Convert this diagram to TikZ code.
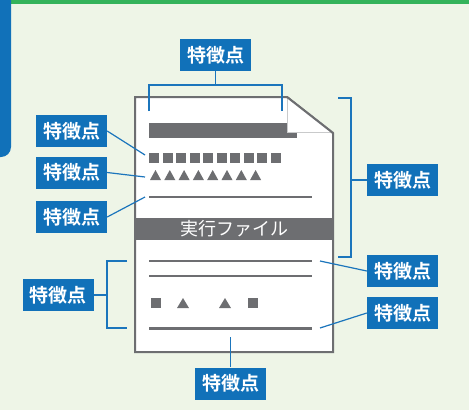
\documentclass[tikz,border=0pt]{standalone}
\usepackage{fontspec}
\newfontfamily\jpfont{Noto Sans CJK JP}[BoldFont={Noto Sans CJK JP Bold}]
\usetikzlibrary{positioning}

\definecolor{bgcol}{HTML}{EEF5E7}
\definecolor{topgreen}{HTML}{34B35B}
\definecolor{tagblue}{HTML}{1171B9}
\definecolor{linkblue}{HTML}{1B75BC}
\definecolor{docgray}{HTML}{6D6E71}
\definecolor{foldgray}{HTML}{C9CACB}

\tikzset{
  tag/.style={fill=tagblue, text=white, font=\jpfont\bfseries\fontsize{19}{19}\selectfont,
    minimum width=71pt, minimum height=32pt, inner sep=0pt},
  link/.style={draw=linkblue, line width=1.2pt},
  docrule/.style={draw=docgray, line width=#1},
  glyph/.style={fill=docgray}
}

\begin{document}
\begin{tikzpicture}[x=1pt, y=-1pt]

     % background
     \useasboundingbox (0,0) rectangle (469,410);
     \fill[bgcol] (0,0) rectangle (469,410);
     \fill[topgreen] (11,0) rectangle (469,3.5);
     \fill[tagblue, rounded corners=10pt] (-15,-15) rectangle (11,157);

     % document
     \filldraw[fill=white, draw=docgray, line width=2pt, line join=miter]
       (135,97) -- (287,97) -- (333,133) -- (333,352) -- (135,352) -- cycle;
     \fill[docgray] (149,123) rectangle (297,138);
     \fill[white] (287,97) -- (287,132) -- (333,132) -- cycle;
     \draw[foldgray, line width=0.8pt] (287,97) -- (287,132) -- (332,132);
     \draw[docgray, line width=2pt, line join=miter] (287,97) -- (333,133);
     \foreach \i in {0,...,9}
       \fill[glyph] (149+13.5*\i,153) rectangle +(10,10);
     \foreach \i in {0,...,7}
       \fill[glyph] (150+14.3*\i,180) -- +(11,0) -- +(5.5,-10) -- cycle;
     \draw[docrule=2pt] (149,197) -- (312,197);
     \node[fill=docgray, minimum width=198pt, minimum height=22pt, inner sep=0pt,
       text=white, font=\jpfont\fontsize{18}{18}\selectfont] (exe) at (234,229) {実行ファイル};
     \draw[docrule=1.5pt] (149,261) -- (312,261);
     \draw[docrule=1.5pt] (149,276) -- (312,276);
     \fill[glyph] (151,298) rectangle (161,308);
     \fill[glyph] (177,308) -- (189,308) -- (183,298) -- cycle;
     \fill[glyph] (219,308) -- (231,308) -- (225,298) -- cycle;
     \fill[glyph] (248,298) rectangle (258,308);
     \draw[docrule=3pt] (149,328) -- (312,328);

     % tags
     \node[tag] (top) at (215.5,55) {特徴点};
     \node[tag] (l1) at (71.5,131) {特徴点};
     \node[tag] (l2) at (71.5,172.5) {特徴点};
     \node[tag] (l3) at (71.5,217) {特徴点};
     \node[tag] (l4) at (58.5,295) {特徴点};
     \node[tag] (r1) at (402.5,180) {特徴点};
     \node[tag] (r2) at (402.5,271) {特徴点};
     \node[tag] (r3) at (402.5,313) {特徴点};
     \node[tag] (bot) at (230.5,383.5) {特徴点};

     % ends
     \coordinate (topmid) at (215.5,85);
     \coordinate (topa) at (149,111);
     \coordinate (topb) at (282,111);
     \coordinate (p1) at (145,155);
     \coordinate (p2) at (145,177);
     \coordinate (p3) at (145,197);
     \coordinate (ra) at (338,98);
     \coordinate (rb) at (338,257);
     \coordinate (rmid) at (351,180);
     \coordinate (q2) at (320,261);
     \coordinate (q3) at (320,328);
     \coordinate (la) at (127,261);
     \coordinate (lb) at (127,328);
     \coordinate (lmid) at (107,295);
     \coordinate (bmid) at (230.5,337);

     % edges
     \draw[link] (top) -- (topmid);
     \draw[link] (topa) |- (topmid) -| (topb);
     \draw[link] (l1.east) -- (p1);
     \draw[link] (l2.east) -- (p2);
     \draw[link] (l3.east) -- (p3);
     \draw[link] (ra) -| (rmid) |- (rb);
     \draw[link] (rmid) -- (r1.west);
     \draw[link] (q2) -- (r2.west);
     \draw[link] (q3) -- (r3.west);
     \draw[link] (la) -| (lmid) |- (lb);
     \draw[link] (l4.east) -- (lmid);
     \draw[link] (bmid) -- (bot);

\end{tikzpicture}
\end{document}
